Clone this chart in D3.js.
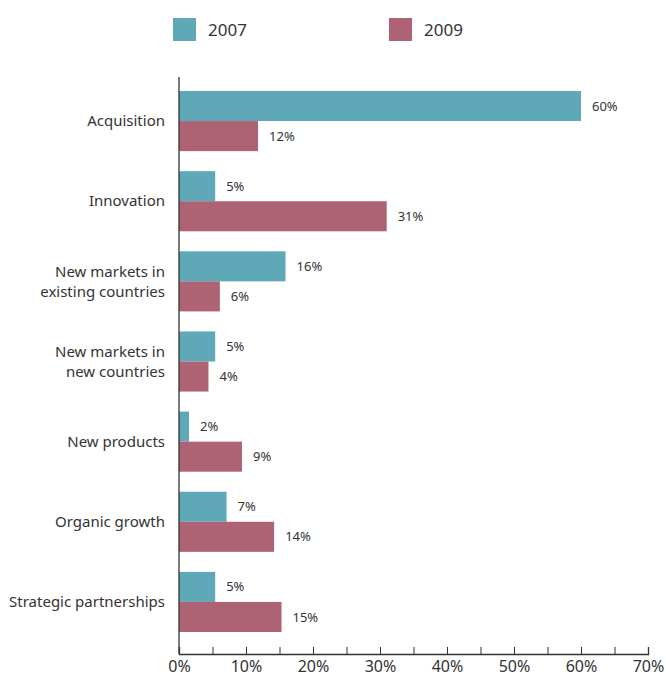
<!doctype html>
<html>
<head>
<script src="https://cdnjs.cloudflare.com/ajax/libs/d3/7.8.5/d3.min.js"></script>
<style>
  body { margin: 0; background: #fff; }
  text { font-family: "Noto Sans", "Open Sans", sans-serif; fill: #333; }
</style>
</head>
<body>
<div id="chart"></div>
<script>
    var categories = ["Acquisition", "Innovation", "New markets in\nexisting countries", "New markets in\nnew countries", "New products", "Organic growth", "Strategic partnerships"];
    var series = ["2007", "2009"];
    // bar lengths as drawn (labels show them rounded)
    var values2007 = [60, 5.4, 15.9, 5.4, 1.5, 7.1, 5.4];
    var values2009 = [11.8, 31, 6.1, 4.4, 9.4, 14.2, 15.3];
    var colors = ["#5fa8b8", "#ad6373"];

    var width = 666, height = 679;
    var svg = d3.select("#chart").append("svg")
        .attr("width", width).attr("height", height);

    var x = d3.scaleLinear().domain([0, 70]).range([179, 648]);
    var y = d3.scaleBand().domain(categories).range([81, 642]).paddingInner(0.25).paddingOuter(0.125);
    var y1 = d3.scaleBand().domain(series).range([0, y.bandwidth()]);

    var rows = categories.map(function (c, i) {
        return { cat: c, vals: [values2007[i], values2009[i]] };
    });

    var g = svg.selectAll(".grp").data(rows).enter().append("g")
        .attr("transform", function (d) { return "translate(0," + y(d.cat) + ")"; });

    g.selectAll("rect").data(function (d) { return d.vals; }).enter().append("rect")
        .attr("x", x(0))
        .attr("y", function (d, i) { return y1(series[i]); })
        .attr("width", function (d) { return x(d) - x(0); })
        .attr("height", y1.bandwidth())
        .attr("fill", function (d, i) { return colors[i]; });

    g.selectAll(".val").data(function (d) { return d.vals; }).enter().append("text")
        .attr("x", function (d) { return x(d) + 11; })
        .attr("y", function (d, i) { return y1(series[i]) + y1.bandwidth() / 2; })
        .attr("dy", "0.35em")
        .style("font-size", "13px")
        .text(function (d) { return Math.round(d) + "%"; });

    // category labels
    g.append("text")
        .attr("text-anchor", "end")
        .style("font-size", "15px")
        .each(function (d) {
            var lines = d.cat.split("\n");
            var el = d3.select(this);
            var mid = y.bandwidth() / 2;
            lines.forEach(function (l, k) {
                el.append("tspan")
                    .attr("x", 165)
                    .attr("y", mid + (k - (lines.length - 1) / 2) * 20)
                    .attr("dy", "0.35em")
                    .text(l);
            });
        });

    // y axis line
    svg.append("line")
        .attr("x1", x(0)).attr("x2", x(0))
        .attr("y1", 77).attr("y2", 654)
        .attr("stroke", "#333").attr("stroke-width", 1.3);

    // x axis
    var xAxis = d3.axisBottom(x)
        .tickValues(d3.range(0, 71, 5))
        .tickSize(-7)
        .tickFormat(function (d) { return d % 10 === 0 ? d + "%" : ""; });
    var ax = svg.append("g").attr("transform", "translate(0,654)").call(xAxis);
    ax.select(".domain").attr("stroke", "#333").attr("stroke-width", 1.3);
    ax.selectAll(".tick line").attr("stroke", "#333");
    ax.selectAll(".tick text")
        .attr("y", 7)
        .style("font-size", "16px")
        .style("font-family", "\"Noto Sans\", sans-serif")
        .attr("fill", "#333");

    // legend
    var legX = [173, 389];
    var leg = svg.selectAll(".leg").data(series).enter().append("g")
        .attr("transform", function (d, i) { return "translate(" + legX[i] + ",18)"; });
    leg.append("rect").attr("width", 23).attr("height", 23)
        .attr("fill", function (d, i) { return colors[i]; });
    leg.append("text").attr("x", 35).attr("y", 12).attr("dy", "0.35em")
        .style("font-size", "17px")
        .text(function (d) { return d; });
</script>
</body>
</html>
